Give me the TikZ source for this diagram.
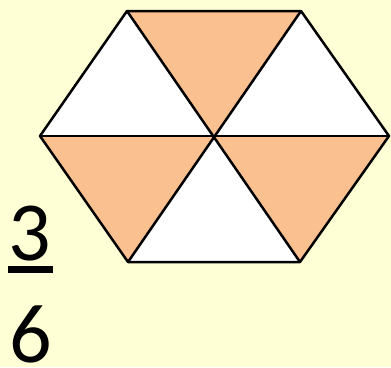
\documentclass[tikz,border=0pt]{standalone}
\usepackage{fontspec}
\setmainfont{Carlito}
\definecolor{paleyellow}{RGB}{255,255,214}
\definecolor{softorange}{RGB}{250,192,143}
\usetikzlibrary{positioning}

\begin{document}
\begin{tikzpicture}[x=1pt,y=-1pt]
        \tikzset{
          edge/.style={draw=black,line width=2.5pt,line join=round},
          digit/.style={font=\fontsize{84}{84}\selectfont,inner sep=0pt,text depth=0pt,anchor=base}
        }
        \fill[paleyellow] (0,0) rectangle (391,367);
        \useasboundingbox (0,0) rectangle (391,367);
        % hexagon corners
        \coordinate (tl) at (127,11);
        \coordinate (tr) at (301,11);
        \coordinate (r) at (389,136);
        \coordinate (br) at (300,262);
        \coordinate (bl) at (128,262);
        \coordinate (l) at (40,136);
        \coordinate (c) at (214,136);
        % six triangles
        \fill[white] (tl) -- (l) -- (c) -- cycle;
        \fill[white] (tr) -- (r) -- (c) -- cycle;
        \fill[white] (bl) -- (br) -- (c) -- cycle;
        \fill[softorange] (tl) -- (tr) -- (c) -- cycle;
        \fill[softorange] (l) -- (bl) -- (c) -- cycle;
        \fill[softorange] (r) -- (br) -- (c) -- cycle;
        \draw[edge] (tl) -- (tr) -- (r) -- (br) -- (bl) -- (l) -- cycle;
        \draw[edge] (l) -- (r);
        \draw[edge] (tl) -- (br);
        \draw[edge] (tr) -- (bl);
        % fraction
        \node[digit] (three) at (30,260) {3};
        \coordinate (barl) at (8,269.5);
        \coordinate (barr) at (53,269.5);
        \draw[line width=7pt] (barl) -- (barr);
        \node[digit] (six) at (31,362) {6};
      \end{tikzpicture}
\end{document}
